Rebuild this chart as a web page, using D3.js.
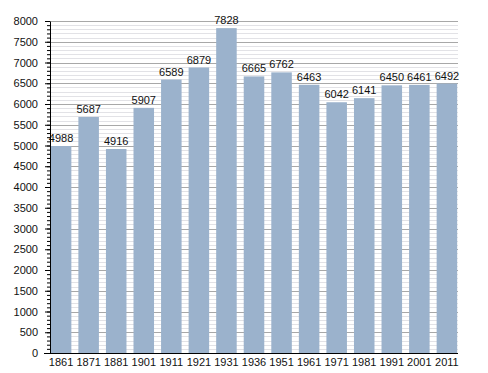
<!DOCTYPE html>
<html>
<head>
<meta charset="utf-8">
<script src="https://cdn.jsdelivr.net/npm/d3@7"></script>
<style>
  body { margin: 0; background: #fff; }
  svg text { font-family: "Liberation Sans", Arial, sans-serif; fill: #111; }
</style>
</head>
<body>
<div id="chart"></div>
<script>
var years = ['1861', '1871', '1881', '1901', '1911', '1921', '1931', '1936',
    '1951', '1961', '1971', '1981', '1991', '2001', '2011'];
var population = [4988, 5687, 4916, 5907, 6589, 6879, 7828, 6665,
    6762, 6463, 6042, 6141, 6450, 6461, 6492];
var yMax = 8000;

var conf = {
    width: 488,
    height: 373,
    left: 50,
    right: 458,
    top: 21,
    bottom: 353,
    barColor: '#9bb2cc',
    fontSize: '11px'
};

var svg = d3.select('#chart')
    .append('svg')
    .attr('width', conf.width)
    .attr('height', conf.height);

var x = d3.scaleBand()
    .domain(years)
    .range([conf.left, conf.right])
    .paddingInner(0.255)
    .paddingOuter(0.03);

var y = d3.scaleLinear()
    .domain([0, yMax])
    .range([conf.bottom, conf.top]);

// minor grid every 100, major every 500
var minor = d3.range(100, yMax + 1, 100).filter(function (v) { return v % 500 !== 0; });
var major = d3.range(500, yMax + 1, 500);

svg.append('g')
    .selectAll('line')
    .data(minor)
    .join('line')
    .attr('x1', conf.left)
    .attr('x2', conf.right)
    .attr('y1', function (d) { return Math.round(y(d)) + 0.5; })
    .attr('y2', function (d) { return Math.round(y(d)) + 0.5; })
    .attr('stroke', '#e2e2e6')
    .attr('stroke-width', 1);

svg.append('g')
    .selectAll('line')
    .data(major)
    .join('line')
    .attr('x1', conf.left)
    .attr('x2', conf.right)
    .attr('y1', function (d) { return Math.round(y(d)) + 0.5; })
    .attr('y2', function (d) { return Math.round(y(d)) + 0.5; })
    .attr('stroke', '#a8a8a8')
    .attr('stroke-width', 1);

// bars
svg.append('g')
    .selectAll('rect')
    .data(population)
    .join('rect')
    .attr('x', function (d, i) { return x(years[i]); })
    .attr('width', x.bandwidth())
    .attr('y', function (d) { return y(d); })
    .attr('height', function (d) { return y(0) - y(d); })
    .attr('fill', conf.barColor);

// value labels
svg.append('g')
    .selectAll('text')
    .data(population)
    .join('text')
    .attr('x', function (d, i) { return x(years[i]) + x.bandwidth() / 2; })
    .attr('y', function (d) { return y(d) - 4; })
    .attr('text-anchor', 'middle')
    .attr('font-size', conf.fontSize)
    .text(function (d) { return d; });

// y axis: minor ticks
svg.append('g')
    .attr('transform', 'translate(' + conf.left + ',0)')
    .call(d3.axisLeft(y).tickValues(d3.range(0, yMax + 1, 100)).tickSize(3).tickFormat(''))
    .call(function (g) { g.select('.domain').remove(); })
    .selectAll('line').attr('stroke', '#000');

// y axis: major ticks and labels
var yAxis = svg.append('g')
    .attr('transform', 'translate(' + conf.left + ',0)')
    .call(d3.axisLeft(y)
        .tickValues(major.concat([0]))
        .tickFormat(d3.format('d'))
        .tickSize(5)
        .tickPadding(7)
        .tickSizeOuter(0));
yAxis.select('.domain').attr('stroke', '#000');
yAxis.selectAll('text').attr('font-size', conf.fontSize).attr('fill', '#111');

// x axis
var xAxis = svg.append('g')
    .attr('transform', 'translate(0,' + (conf.bottom + 0.5) + ')')
    .call(d3.axisBottom(x).tickSize(0).tickPadding(5));
xAxis.select('.domain').remove();
xAxis.selectAll('text').attr('font-size', conf.fontSize).attr('fill', '#111');

svg.append('line')
    .attr('x1', conf.left - 6)
    .attr('x2', conf.right)
    .attr('y1', conf.bottom + 0.5)
    .attr('y2', conf.bottom + 0.5)
    .attr('stroke', '#000');
</script>
</body>
</html>
